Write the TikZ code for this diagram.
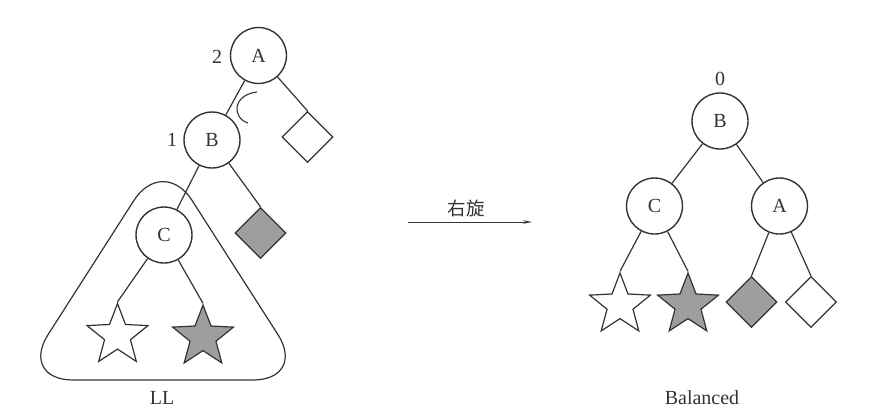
\documentclass[tikz,border=0pt]{standalone}
\usepackage{fontspec}
\setmainfont{Liberation Serif}
\newfontfamily\cjk{Noto Sans CJK SC}
\usetikzlibrary{shapes.geometric,arrows.meta}
\begin{document}
\begin{tikzpicture}[x=1pt,y=-1pt,
  tnode/.style={circle,draw=black!80,line width=1.4pt,minimum size=56pt,inner sep=0pt,font=\fontsize{20}{20}\selectfont,text=black!80},
  edge/.style={draw=black!80,line width=1.2pt},
  starw/.style={star,star points=5,star point ratio=2.35,minimum size=64pt,inner sep=0pt,draw=black!80,line width=1.2pt,fill=white},
  starg/.style={starw,fill=black!38},
  diaw/.style={diamond,aspect=1,minimum size=51pt,inner sep=0pt,draw=black!80,line width=1.3pt,fill=white},
  diag/.style={diaw,fill=black!38},
  lbl/.style={font=\fontsize{20}{20}\selectfont,text=black!80}
]
\useasboundingbox (0,0) rectangle (874,416);

% left tree
\draw[edge, rounded corners=54pt] (163,380) -- (307,380) -- (163,155) -- (19,380) -- cycle;
\node[tnode] (A) at (258.5,55.5) {A};
\node[lbl] (n2) at (217,57) {2};
\node[tnode] (B) at (212,140) {B};
\node[lbl] (n1) at (172,140) {1};
\node[tnode] (C) at (164,235) {C};
\node[diaw] (d1) at (307.5,137) {};
\node[diag] (d2) at (260.5,233) {};
\node[starw] (s1) at (117.5,335.5) {};
\node[starg] (s2) at (203,337) {};
\node[lbl] (LL) at (162,398) {LL};
\draw[edge] (A) -- (B);
\draw[edge] (A) -- (d1.north);
\draw[edge] (B) -- (C);
\draw[edge] (B) -- (d2.north);
\draw[edge] (C) -- (s1.outer point 1);
\draw[edge] (C) -- (s2.outer point 1);
\draw[draw=black!80,line width=1.1pt] (257,92) .. controls (232,95) and (232,118) .. (248,123);

% arrow
\coordinate (ar1) at (408,222);
\coordinate (ar2) at (532,222);
\draw[draw=black!80,line width=1pt,-{Stealth[length=9pt,width=3.5pt]}] (ar1) -- (ar2);
\node[font=\cjk\fontsize{18.5}{18.5}\selectfont,text=black!80] (rot) at (466,208) {右旋};

% right tree
\node[lbl] (n0) at (720,79) {0};
\node[tnode] (B2) at (720,121) {B};
\node[tnode] (C2) at (654.5,206) {C};
\node[tnode] (A2) at (779.5,206) {A};
\node[starw] (s3) at (620,305) {};
\node[starg] (s4) at (688,305) {};
\node[diag] (d3) at (751.5,302) {};
\node[diaw] (d4) at (811,302) {};
\node[lbl] (bal) at (702,398) {Balanced};
\draw[edge] (B2) -- (C2);
\draw[edge] (B2) -- (A2);
\draw[edge] (C2) -- (s3.outer point 1);
\draw[edge] (C2) -- (s4.outer point 1);
\draw[edge] (A2) -- (d3.north);
\draw[edge] (A2) -- (d4.north);
\end{tikzpicture}
\end{document}
